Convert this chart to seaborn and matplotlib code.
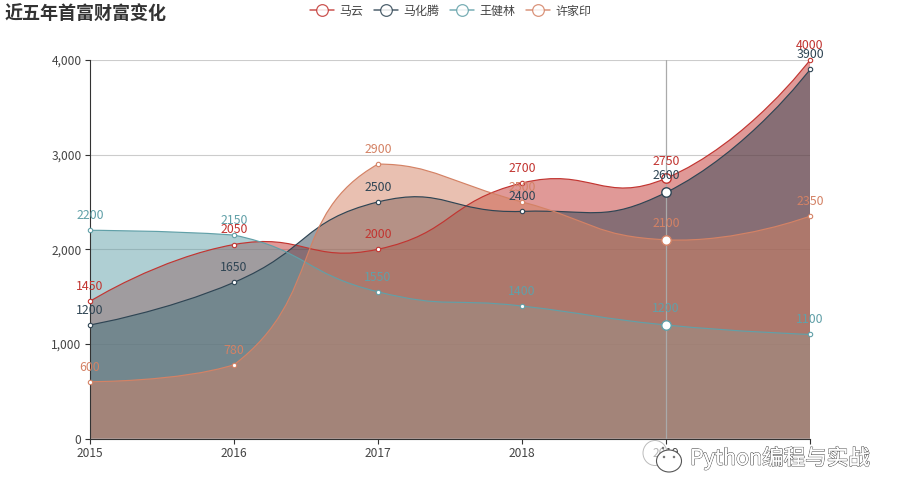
"""Five-year richest-person wealth chart, echarts-style smooth stacked areas."""

import matplotlib
matplotlib.use("Agg")
import matplotlib.pyplot as plt
import matplotlib.patheffects as pe
import numpy as np
import pandas as pd
import seaborn as sns
from matplotlib.lines import Line2D
from matplotlib.patches import Ellipse, PathPatch
from matplotlib.path import Path
from matplotlib.transforms import IdentityTransform

years = [2015, 2016, 2017, 2018, 2019, 2020]
names = ["马云", "马化腾", "王健林", "许家印"]
ma_yun = [1450, 2050, 2000, 2700, 2750, 4000]
ma_huateng = [1200, 1650, 2500, 2400, 2600, 3900]
wang_jianlin = [2200, 2150, 1550, 1400, 1200, 1100]
xu_jiayin = [600, 780, 2900, 2500, 2100, 2350]
y_ticks = [0, 1000, 2000, 3000, 4000]
y_tick_labels = ["0", "1,000", "2,000", "3,000", "4,000"]
colors = ["#c23531", "#2f4554", "#61a0a8", "#d48265"]
hover_year = 2019

W, H = 900, 500
LEFT, RIGHT, TOP, BOTTOM = 90, 810, 60, 438.5
PX = 72 / 100  # points per pixel at dpi 100

sns.set_theme(style="white")
plt.rcParams["font.family"] = ["Noto Sans CJK SC", "DejaVu Sans"]
plt.rcParams["axes.unicode_minus"] = False


def smooth_path(xs, ys, ax_w, ax_h, x_span, y_span, smooth=0.5):
    """Bezier control points the way echarts does them, measured in pixels.

    Control points stay inside the bounding box of the series.
    """
    sx = ax_w / x_span
    sy = ax_h / y_span
    pts = np.column_stack([np.asarray(xs, float) * sx, np.asarray(ys, float) * sy])
    lo, hi = pts.min(axis=0), pts.max(axis=0)
    n = len(pts)
    before = pts.copy()
    after = pts.copy()
    for i in range(1, n - 1):
        v = (pts[i + 1] - pts[i - 1]) * smooth
        d0 = np.linalg.norm(pts[i] - pts[i - 1])
        d1 = np.linalg.norm(pts[i + 1] - pts[i])
        before[i] = np.clip(pts[i] - v * d0 / (d0 + d1), lo, hi)
        after[i] = np.clip(pts[i] + v * d1 / (d0 + d1), lo, hi)
    verts = [pts[0]]
    codes = [Path.MOVETO]
    for i in range(n - 1):
        verts += [after[i], before[i + 1], pts[i + 1]]
        codes += [Path.CURVE4] * 3
    verts = np.array(verts) / [sx, sy]
    return verts, codes


df = pd.DataFrame(
    {
        "year": years * 4,
        "value": ma_yun + ma_huateng + wang_jianlin + xu_jiayin,
        "name": [n for n in names for _ in years],
    }
)

fig = plt.figure(figsize=(W / 100, H / 100), dpi=100, facecolor="white")
ax = fig.add_axes(
    [LEFT / W, 1 - BOTTOM / H, (RIGHT - LEFT) / W, (BOTTOM - TOP) / H]
)
ax.set_xlim(years[0], years[-1])
ax.set_ylim(0, 4000)
ax.set_yticks(y_ticks)
ax.set_yticklabels(y_tick_labels)
ax.set_xticks(years)
ax.set_xticklabels([str(y) for y in years])
ax.tick_params(
    axis="both", length=5 * PX, width=0.8, color="#333333", labelcolor="#444444",
    labelsize=8.64, pad=2.5, bottom=True, left=True,
)
ax.yaxis.grid(True, color="#cccccc", linewidth=0.8, zorder=0)
ax.xaxis.grid(False)
ax.set_axisbelow(True)
for side in ["top", "right"]:
    ax.spines[side].set_visible(False)
for side in ["left", "bottom"]:
    ax.spines[side].set_color("#333333")
    ax.spines[side].set_linewidth(0.8)

# areas and lines, first series at the bottom of the stack
for i, (name, color) in enumerate(zip(names, colors)):
    sub = df[df["name"] == name]
    verts, codes = smooth_path(
        sub["year"], sub["value"], RIGHT - LEFT, BOTTOM - TOP,
        years[-1] - years[0], 4000,
    )
    area_verts = np.vstack([verts, [[years[-1], 0], [years[0], 0], verts[0]]])
    area_codes = codes + [Path.LINETO, Path.LINETO, Path.CLOSEPOLY]
    ax.add_patch(
        PathPatch(Path(area_verts, area_codes), facecolor=color, edgecolor="none",
                  alpha=0.5, zorder=2 + i * 0.1)
    )
    ax.add_patch(
        PathPatch(Path(verts, codes), facecolor="none", edgecolor=color,
                  linewidth=0.85, zorder=3 + i * 0.1, clip_on=False)
    )

ax.axvline(hover_year, color="#aaaaaa", linewidth=0.9, zorder=3.9)

# point symbols: small normally, enlarged in the hovered column
for i, (name, color) in enumerate(zip(names, colors)):
    sub = df[df["name"] == name]
    rest = sub[sub["year"] != hover_year]
    hov = sub[sub["year"] == hover_year]
    sns.scatterplot(
        data=rest, x="year", y="value", ax=ax, color="white", edgecolor=color,
        s=10, linewidth=0.8, zorder=4 + i * 0.1, clip_on=False, legend=False,
    )
    sns.scatterplot(
        data=hov, x="year", y="value", ax=ax, color="white", edgecolor=color,
        s=46, linewidth=1.0, zorder=4 + i * 0.1, clip_on=False, legend=False,
    )
    for x, y in zip(sub["year"], sub["value"]):
        offset = 12 if x == hover_year else 10.5
        ax.annotate(
            str(y), (x, y), xytext=(0, offset), textcoords="offset points",
            ha="center", va="center", color=color, fontsize=8.9,
            fontweight="light", zorder=6, annotation_clip=False,
        )
ax.set_xlabel("")
ax.set_ylabel("")

fig.text(5 / W, 1 - 14 / H, "近五年首富财富变化", fontsize=13, fontweight="bold",
         color="#333333", ha="left", va="center")

handles = [
    Line2D([], [], color=c, linewidth=1.1, marker="o", markersize=8.4,
           markerfacecolor="white", markeredgecolor=c, markeredgewidth=0.9,
           alpha=0.85)
    for c in colors
]
fig.legend(
    handles, names, loc="center", bbox_to_anchor=(450.5 / W, 1 - 11 / H), ncol=4,
    frameon=False, fontsize=8.64, handlelength=2.0, handletextpad=0.45,
    columnspacing=0.9, borderpad=0, labelcolor="#444444",
)


# watermark in the lower right corner
def to_px(x, y):
    return (x, H - y)


for cx, cy, w, h, fc, ec, lw in [
    (655, 453, 24, 25, (1, 1, 1, 0.6), "#bbbbbb", 0.7),
    (669, 461, 25, 22, (1, 1, 1, 1), "#555555", 0.8),
]:
    fig.add_artist(Ellipse(to_px(cx, cy), w, h, facecolor=fc, edgecolor=ec,
                           linewidth=lw, transform=IdentityTransform(), zorder=8))
for cx, cy in [(663, 448), (664, 457), (674, 457)]:
    fig.add_artist(Ellipse(to_px(cx, cy), 2.5, 2.5, facecolor="#777777", edgecolor="none",
                           transform=IdentityTransform(), zorder=9))
wm = fig.text(
    690 / W, 1 - 458 / H, "Python编程与实战", fontsize=15.5, color="white",
    ha="left", va="center", zorder=9,
    bbox=dict(facecolor="white", edgecolor="none", pad=1),
)
wm.set_path_effects([
    pe.withStroke(linewidth=0.9, foreground="#555555"),
    pe.Normal(),
])

fig.savefig("out.png", dpi=100)
plt.close(fig)
